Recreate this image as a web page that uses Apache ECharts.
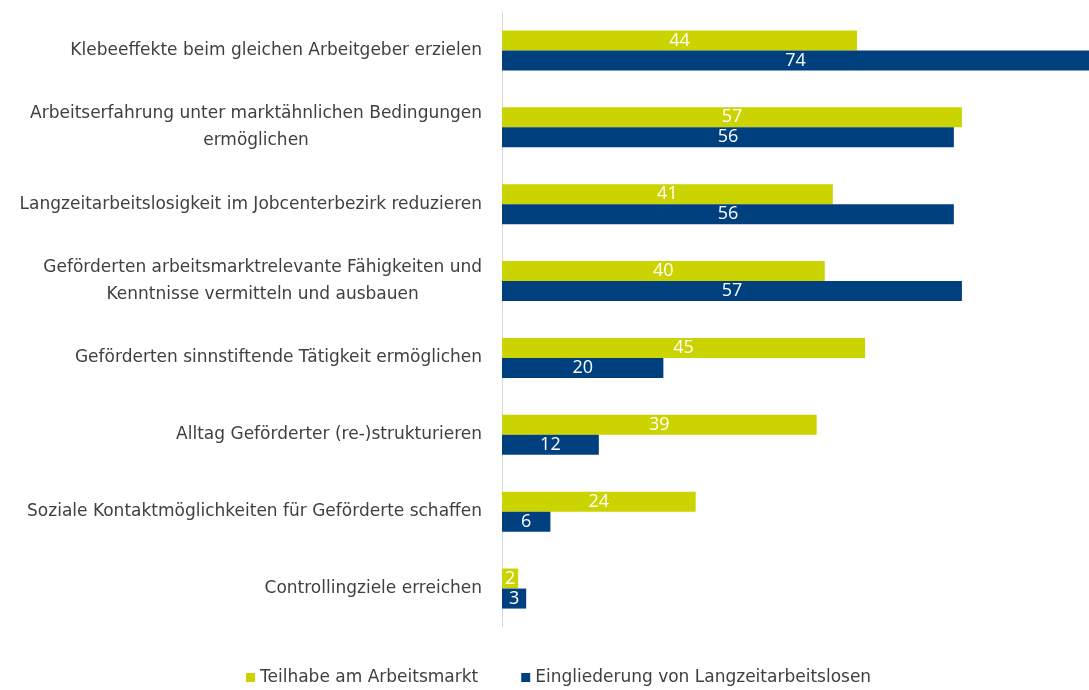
<!DOCTYPE html>
<html>
<head>
<meta charset="utf-8">
<script src="https://cdn.jsdelivr.net/npm/echarts@6/dist/echarts.min.js"></script>
<style>
  html, body { margin: 0; padding: 0; background: #fff; }
  #chart { width: 1089px; height: 690px; }
</style>
</head>
<body>
<div id="chart"></div>
<script>
var categories = [
  'Klebeeffekte beim gleichen Arbeitgeber erzielen',
  'Arbeitserfahrung unter marktähnlichen Bedingungen\nermöglichen',
  'Langzeitarbeitslosigkeit im Jobcenterbezirk reduzieren',
  'Geförderten arbeitsmarktrelevante Fähigkeiten und\nKenntnisse vermitteln und ausbauen',
  'Geförderten sinnstiftende Tätigkeit ermöglichen',
  'Alltag Geförderter (re-)strukturieren',
  'Soziale Kontaktmöglichkeiten für Geförderte schaffen',
  'Controllingziele erreichen'
];
var seriesNames = ['Teilhabe am Arbeitsmarkt', 'Eingliederung von Langzeitarbeitslosen'];
var teilhabe = [44, 57, 41, 40, 45, 39, 24, 2];
var eingliederung = [74, 56, 56, 57, 20, 12, 6, 3];

var colors = ['#cbd300', '#00407f'];
var font = '"DejaVu Sans", sans-serif';
var valueFont = '"Open Sans", sans-serif';

function barSeries(name, data, color) {
  return {
    name: name,
    type: 'bar',
    data: data,
    barWidth: 20,
    barGap: '0%',
    itemStyle: { color: color },
    label: {
      show: true,
      position: 'inside',
      color: '#fff',
      fontFamily: valueFont,
      fontSize: 18
    }
  };
}

var chart = echarts.init(document.getElementById('chart'));
chart.setOption({
  animation: false,
  color: colors,
  // axis max chosen so the longest bar is cut off by the right edge
  grid: { left: 502, top: 12, right: 0, height: 615, containLabel: false },
  legend: {
    top: 664,
    left: 241,
    itemWidth: 9,
    itemHeight: 9,
    itemGap: 43,
    icon: 'rect',
    textStyle: { color: '#404040', fontFamily: font, fontSize: 17 },
    data: seriesNames
  },
  xAxis: {
    type: 'value',
    min: 0,
    max: 72.75,
    show: false
  },
  yAxis: {
    type: 'category',
    inverse: true,
    data: categories,
    axisLine: { show: true, lineStyle: { color: '#d9d9d9', width: 1 } },
    axisTick: { show: false },
    axisLabel: {
      margin: 20,
      color: '#404040',
      fontFamily: font,
      fontSize: 17,
      lineHeight: 27,
      formatter: function (v) {
        return v.split('\n').map(function (s) { return '{c|' + s + '}'; }).join('\n');
      },
      rich: {
        c: { align: 'center', color: '#404040', fontFamily: font, fontSize: 17, lineHeight: 27 }
      }
    }
  },
  series: [
    barSeries(seriesNames[0], teilhabe, colors[0]),
    barSeries(seriesNames[1], eingliederung, colors[1])
  ]
});
</script>
</body>
</html>
